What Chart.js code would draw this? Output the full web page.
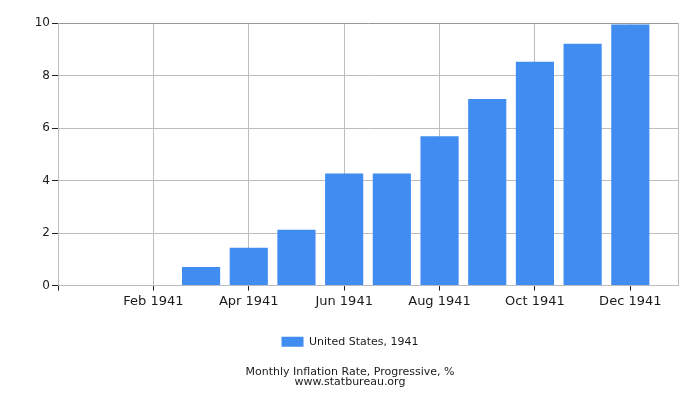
<!DOCTYPE html>
<html>
<head>
<meta charset="utf-8">
<script src="https://cdn.jsdelivr.net/npm/chart.js@4"></script>
<style>
  html, body { margin: 0; padding: 0; background: #fff; }
  #wrap { width: 700px; height: 400px; }
</style>
</head>
<body>
<div id="wrap"><canvas id="myChart" width="700" height="400"></canvas></div>
<script>
var months = ['Jan 1941', 'Feb 1941', 'Mar 1941', 'Apr 1941', 'May 1941', 'Jun 1941',
              'Jul 1941', 'Aug 1941', 'Sep 1941', 'Oct 1941', 'Nov 1941', 'Dec 1941'];
var inflation = [0, 0, 0.71, 1.44, 2.13, 4.27, 4.27, 5.69, 7.11, 8.52, 9.21, 9.94];
var seriesLabel = 'United States, 1941';
var titleLines = ['Monthly Inflation Rate, Progressive, %', 'www.statbureau.org'];

// month index 1..12 on a linear axis, padded by one month each side
var points = inflation.map((v, i) => ({ x: i + 1, y: v }));

const ctx = document.getElementById('myChart').getContext('2d');
const myChart = new Chart(ctx, {
    type: 'bar',
    data: {
        datasets: [
            {
                label: seriesLabel,
                data: points,
                backgroundColor: '#418cf0',
                borderWidth: 0,
                barPercentage: 0.8,
                categoryPercentage: 1.0
            }
        ]
    },
    options: {
        responsive: false,
        animation: false,
        layout: { padding: { left: 22, right: 22, top: 23, bottom: 13 } },
        scales: {
            x: {
                type: 'linear',
                min: 0,
                max: 13,
                offset: false,
                afterBuildTicks: scale => {
                    scale.ticks = [0, 2, 4, 6, 8, 10, 12, 13].map(v => ({ value: v }));
                },
                afterFit: scale => { scale.height += 10; },
                ticks: {
                    autoSkip: false,
                    maxRotation: 0,
                    padding: 3,
                    color: '#1a1a1a',
                    font: { family: 'DejaVu Sans', size: 13 },
                    callback: v => (v >= 1 && v <= 12) ? months[v - 1] : ''
                },
                grid: {
                    offset: false,
                    color: '#bdbdbd',
                    tickColor: c => (c.tick && c.tick.value === 13) ? 'rgba(0,0,0,0)' : '#222',
                    tickLength: 5
                },
                border: { color: '#bdbdbd' }
            },
            y: {
                min: 0,
                max: 10,
                afterFit: scale => { scale.width = 36; },
                ticks: {
                    stepSize: 2,
                    padding: 2,
                    color: '#1a1a1a',
                    font: { family: 'DejaVu Sans', size: 12 }
                },
                grid: {
                    color: c => (c.tick && c.tick.value === 10) ? '#9a9a9a' : '#bdbdbd',
                    tickColor: '#222',
                    tickLength: 6
                },
                border: { color: '#bdbdbd' }
            }
        },
        plugins: {
            legend: {
                position: 'bottom',
                labels: {
                    boxWidth: 22,
                    boxHeight: 10,
                    color: '#1a1a1a',
                    padding: 14,
                    font: { family: 'DejaVu Sans', size: 11 }
                }
            },
            title: {
                display: true,
                position: 'bottom',
                text: titleLines,
                color: '#1a1a1a',
                padding: { top: 10, bottom: 0 },
                font: { family: 'DejaVu Sans', size: 11, weight: 'normal', lineHeight: 0.9 }
            },
            tooltip: { enabled: false }
        }
    }
});
</script>
</body>
</html>
